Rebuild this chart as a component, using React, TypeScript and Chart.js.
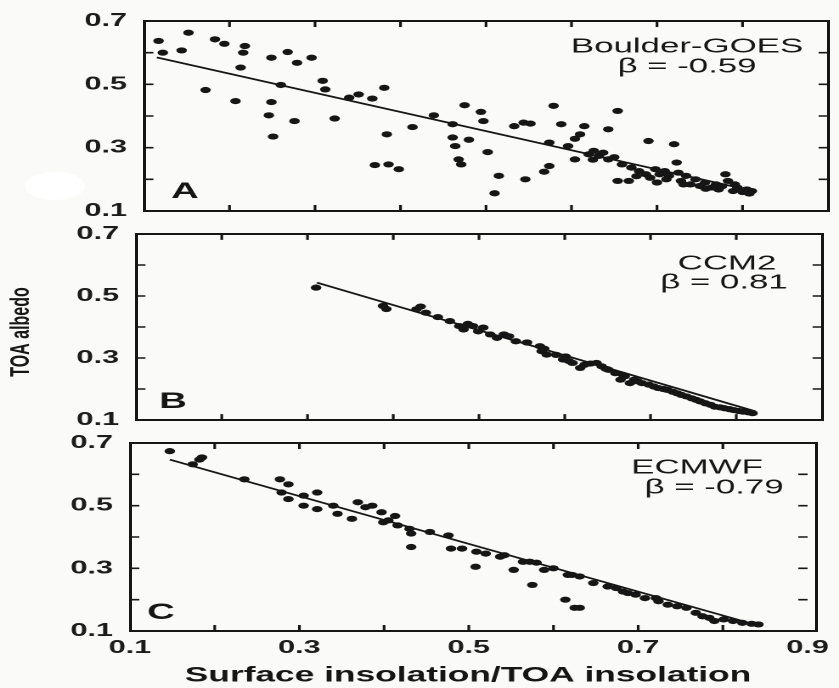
import React, { useEffect, useRef } from 'react';
import { Chart, registerables } from 'chart.js';

Chart.register(...registerables);

// ---------- data ----------
type Pt = [number, number];

const xLimits = [0.1, 0.9];
const yLimits = [0.1, 0.7];
const xTickValues = [0.1, 0.3, 0.5, 0.7, 0.9];
const yTickValues = [0.1, 0.3, 0.5, 0.7];
const xMinorTicks = [0.2, 0.3, 0.4, 0.5, 0.6, 0.7, 0.8];
const yMinorTicks = [0.2, 0.3, 0.4, 0.5, 0.6];

const pointsA: Pt[] = [
  [0.117, 0.637], [0.122, 0.6], [0.144, 0.607], [0.152, 0.663], [0.172, 0.482], [0.183, 0.642],
  [0.194, 0.628], [0.207, 0.447], [0.213, 0.553], [0.218, 0.621], [0.216, 0.6], [0.249, 0.584],
  [0.249, 0.444], [0.246, 0.402], [0.251, 0.335], [0.26, 0.498], [0.268, 0.602], [0.279, 0.568],
  [0.276, 0.384], [0.296, 0.584], [0.309, 0.511], [0.312, 0.484], [0.323, 0.392], [0.34, 0.458],
  [0.351, 0.468], [0.367, 0.455], [0.381, 0.489], [0.384, 0.342], [0.37, 0.245], [0.386, 0.247],
  [0.398, 0.232], [0.414, 0.365], [0.439, 0.402], [0.461, 0.374], [0.461, 0.332], [0.464, 0.305],
  [0.468, 0.263], [0.471, 0.247], [0.475, 0.434], [0.48, 0.325], [0.494, 0.413], [0.497, 0.384],
  [0.502, 0.286], [0.51, 0.156], [0.515, 0.211], [0.533, 0.368], [0.544, 0.379], [0.546, 0.2],
  [0.552, 0.376], [0.568, 0.224], [0.574, 0.242], [0.579, 0.432], [0.574, 0.316], [0.588, 0.374],
  [0.596, 0.305], [0.604, 0.328], [0.61, 0.342], [0.615, 0.368], [0.604, 0.263], [0.62, 0.279],
  [0.626, 0.29], [0.632, 0.274], [0.637, 0.284], [0.643, 0.358], [0.643, 0.263], [0.654, 0.416],
  [0.654, 0.195], [0.659, 0.247], [0.667, 0.195], [0.67, 0.237], [0.679, 0.226], [0.687, 0.216],
  [0.69, 0.321], [0.698, 0.232], [0.703, 0.216], [0.709, 0.226], [0.714, 0.211], [0.72, 0.311],
  [0.723, 0.253], [0.725, 0.221], [0.728, 0.195], [0.734, 0.211], [0.739, 0.184], [0.745, 0.2],
  [0.75, 0.179], [0.756, 0.189], [0.764, 0.174], [0.769, 0.184], [0.772, 0.168], [0.78, 0.216],
  [0.783, 0.195], [0.789, 0.163], [0.794, 0.174], [0.8, 0.16], [0.805, 0.168], [0.811, 0.163],
  [0.791, 0.184], [0.731, 0.184], [0.711, 0.2], [0.692, 0.205], [0.676, 0.21], [0.7, 0.19],
  [0.757, 0.17], [0.776, 0.178], [0.808, 0.155], [0.625, 0.262], [0.65, 0.27],
];
const fitA: Pt[] = [[0.115, 0.585], [0.81, 0.165]];

const pointsB: Pt[] = [
  [0.31, 0.527], [0.388, 0.468], [0.392, 0.458], [0.427, 0.457], [0.432, 0.466], [0.438, 0.446],
  [0.452, 0.432], [0.466, 0.419], [0.477, 0.403], [0.482, 0.392], [0.487, 0.41], [0.493, 0.403],
  [0.499, 0.386], [0.505, 0.398], [0.513, 0.376], [0.521, 0.365], [0.529, 0.376], [0.535, 0.37],
  [0.543, 0.354], [0.556, 0.35], [0.571, 0.338], [0.573, 0.322], [0.579, 0.311], [0.576, 0.33],
  [0.59, 0.31], [0.598, 0.295], [0.601, 0.305], [0.605, 0.29], [0.609, 0.284], [0.618, 0.268],
  [0.623, 0.278], [0.63, 0.282], [0.637, 0.284], [0.643, 0.273], [0.648, 0.265], [0.651, 0.262],
  [0.659, 0.251], [0.665, 0.23], [0.668, 0.245], [0.67, 0.241], [0.676, 0.219], [0.681, 0.23],
  [0.685, 0.225], [0.69, 0.219], [0.698, 0.214], [0.704, 0.208], [0.709, 0.203], [0.715, 0.2],
  [0.72, 0.197], [0.726, 0.191], [0.731, 0.186], [0.736, 0.181], [0.742, 0.176], [0.748, 0.17],
  [0.753, 0.165], [0.758, 0.16], [0.764, 0.154], [0.77, 0.149], [0.775, 0.143], [0.781, 0.141],
  [0.786, 0.138], [0.792, 0.135], [0.797, 0.132], [0.803, 0.129], [0.808, 0.127], [0.814, 0.125],
  [0.819, 0.122],
];
const fitB: Pt[] = [[0.311, 0.543], [0.822, 0.128]];

const pointsC: Pt[] = [
  [0.147, 0.674], [0.174, 0.632], [0.182, 0.647], [0.185, 0.654], [0.235, 0.584], [0.277, 0.584],
  [0.287, 0.568], [0.279, 0.542], [0.287, 0.521], [0.305, 0.532], [0.305, 0.5], [0.321, 0.542],
  [0.321, 0.489], [0.34, 0.5], [0.345, 0.474], [0.362, 0.458], [0.369, 0.511], [0.378, 0.495],
  [0.386, 0.5], [0.397, 0.479], [0.399, 0.447], [0.405, 0.453], [0.413, 0.467], [0.416, 0.437],
  [0.43, 0.426], [0.432, 0.411], [0.432, 0.368], [0.454, 0.416], [0.476, 0.405], [0.479, 0.363],
  [0.492, 0.363], [0.509, 0.353], [0.52, 0.347], [0.508, 0.305], [0.537, 0.337], [0.542, 0.342],
  [0.553, 0.295], [0.564, 0.321], [0.572, 0.321], [0.58, 0.318], [0.575, 0.247], [0.589, 0.295],
  [0.6, 0.3], [0.614, 0.2], [0.617, 0.279], [0.622, 0.279], [0.625, 0.174], [0.631, 0.174],
  [0.631, 0.274], [0.647, 0.253], [0.664, 0.242], [0.674, 0.237], [0.682, 0.226], [0.688, 0.221],
  [0.697, 0.216], [0.708, 0.205], [0.721, 0.205], [0.724, 0.195], [0.735, 0.184], [0.746, 0.179],
  [0.757, 0.174], [0.768, 0.158], [0.776, 0.147], [0.784, 0.142], [0.79, 0.132], [0.801, 0.137],
  [0.812, 0.132], [0.823, 0.126], [0.834, 0.123], [0.842, 0.121],
];
const fitC: Pt[] = [[0.147, 0.647], [0.844, 0.116]];

const panelNames = ['Boulder-GOES', 'CCM2', 'ECMWF'];
const panelBetas = ['β = -0.59', 'β = 0.81', 'β = -0.79'];
const panelLetters = ['A', 'B', 'C'];
const xTitle = 'Surface insolation/TOA insolation';
const yTitle = 'TOA albedo';

// ---------- layout (page pixels; drawing is stretched horizontally like the scan) ----------
const PAGE_W = 839;
const PAGE_H = 688;
const IW = 494;
const SX = PAGE_W / IW;
const FONT = '"Liberation Sans", Arial, Helvetica, sans-serif';
const INK = '#161616';

const layouts = [
  { l: 144, r: 828, t: 21, b: 211, name: [687, 47], beta: [687, 67], letter: [185, 192], showX: false },
  { l: 136, r: 822, t: 234, b: 420, name: [727, 264], beta: [724, 283], letter: [173, 402], showX: false },
  { l: 130, r: 816, t: 443, b: 631, name: [697, 468], beta: [714, 488], letter: [161, 613], showX: true },
];

const fmtTick = (vals: number[]) => (v: number | string) => {
  const n = Number(v);
  const hit = vals.find((t) => Math.abs(t - n) < 1e-6);
  return hit !== undefined ? hit.toFixed(1) : '';
};

// inward tick marks, built from the axis limits and tick values
const tickData = () => {
  const dy = 0.019;
  const dx = 0.011;
  const out: any[] = [];
  xMinorTicks.forEach((v) => {
    out.push({ x: v, y: yLimits[0] }, { x: v, y: yLimits[0] + dy }, { x: v, y: null });
    out.push({ x: v, y: yLimits[1] }, { x: v, y: yLimits[1] - dy }, { x: v, y: null });
  });
  yMinorTicks.forEach((v) => {
    out.push({ x: xLimits[0], y: v }, { x: xLimits[0] + dx, y: v }, { x: xLimits[0] + dx, y: null });
    out.push({ x: xLimits[1], y: v }, { x: xLimits[1] - dx, y: v }, { x: xLimits[1] - dx, y: null });
  });
  return out;
};

const textPlugin = {
  id: 'panelText',
  afterDraw(chart: any, _a: any, opts: any) {
    const ctx = chart.ctx;
    ctx.save();
    if (opts.hole) {
      ctx.fillStyle = '#ffffff';
      ctx.beginPath();
      ctx.ellipse(55 / SX, 186, 30 / SX, 14, 0, 0, Math.PI * 2);
      ctx.fill();
    }
    ctx.fillStyle = INK;
    ctx.textAlign = 'center';
    ctx.textBaseline = 'middle';
    ctx.font = `20.5px ${FONT}`;
    ctx.fillText(opts.name, opts.namePos[0] / SX, opts.namePos[1]);
    ctx.fillText(opts.beta, opts.betaPos[0] / SX, opts.betaPos[1]);
    ctx.font = `bold 22.5px ${FONT}`;
    ctx.fillText(opts.letter, opts.letterPos[0] / SX, opts.letterPos[1]);
    if (opts.xTitle) {
      ctx.font = `bold 20.8px ${FONT}`;
      ctx.fillText(opts.xTitle, 468 / SX, 676);
    }
    if (opts.yTitle) {
      ctx.save();
      ctx.translate(21 / SX, 332);
      ctx.rotate(-Math.PI / 2);
      ctx.font = `bold 16px ${FONT}`;
      ctx.fillText(opts.yTitle, 0, 0);
      ctx.restore();
    }
    ctx.restore();
  },
};

function makeChart(canvas: HTMLCanvasElement, idx: number) {
  const L = layouts[idx];
  const pts = [pointsA, pointsB, pointsC][idx];
  const fit = [fitA, fitB, fitC][idx];
  const yAxisW = 60;
  const xAxisH = L.showX ? 30 : 0;
  const padLeft = L.l / SX - yAxisW;
  const padRight = IW - L.r / SX;
  const padTop = L.t;
  const padBottom = PAGE_H - L.b - xAxisH;
  const tickFont = { family: FONT, size: 18, weight: 'bold' as const };

  return new Chart(canvas, {
    type: 'scatter',
    data: {
      datasets: [
        {
          type: 'scatter',
          data: pts.map(([x, y]) => ({ x, y })),
          pointRadius: 3.1,
          pointBackgroundColor: INK,
          pointBorderColor: INK,
          pointBorderWidth: 0,
        },
        {
          type: 'line',
          data: fit.map(([x, y]) => ({ x, y })),
          borderColor: INK,
          borderWidth: 1.7,
          pointRadius: 0,
          showLine: true,
          fill: false,
        },
        {
          type: 'line',
          data: tickData(),
          borderColor: INK,
          borderWidth: 1.6,
          pointRadius: 0,
          showLine: true,
          spanGaps: false,
          fill: false,
          clip: false,
        },
      ],
    } as any,
    options: {
      responsive: false,
      animation: false,
      devicePixelRatio: 2,
      layout: { padding: { left: padLeft, right: padRight, top: padTop, bottom: padBottom } },
      plugins: {
        legend: { display: false },
        tooltip: { enabled: false },
        panelText: {
          name: panelNames[idx],
          beta: panelBetas[idx],
          letter: panelLetters[idx],
          namePos: L.name,
          betaPos: L.beta,
          letterPos: L.letter,
          xTitle: idx === 2 ? xTitle : '',
          yTitle: idx === 1 ? yTitle : '',
          hole: idx === 0,
        },
      } as any,
      scales: {
        x: {
          type: 'linear',
          min: xLimits[0],
          max: xLimits[1],
          display: L.showX,
          position: 'bottom',
          afterFit: (s: any) => {
            s.height = xAxisH;
          },
          grid: { display: false, drawTicks: false },
          border: { display: false },
          ticks: {
            stepSize: 0.1,
            autoSkip: false,
            maxRotation: 0,
            padding: 6,
            color: '#1c1c1c',
            font: tickFont,
            callback: fmtTick(xTickValues),
          },
        },
        y: {
          type: 'linear',
          min: yLimits[0],
          max: yLimits[1],
          afterFit: (s: any) => {
            s.width = yAxisW;
          },
          grid: { display: false, drawTicks: false },
          border: { display: false },
          ticks: {
            stepSize: 0.1,
            autoSkip: false,
            padding: 10,
            color: '#1c1c1c',
            font: tickFont,
            callback: fmtTick(yTickValues),
          },
        },
      },
    } as any,
    plugins: [textPlugin as any],
  });
}

export default function App() {
  const r0 = useRef<HTMLCanvasElement>(null);
  const r1 = useRef<HTMLCanvasElement>(null);
  const r2 = useRef<HTMLCanvasElement>(null);
  const refs = [r0, r1, r2];

  useEffect(() => {
    const charts = [r0, r1, r2].map((r, i) => makeChart(r.current as HTMLCanvasElement, i));
    return () => charts.forEach((c) => c.destroy());
  }, []);

  return (
    <div
      style={{
        position: 'absolute',
        left: 0,
        top: 0,
        width: `${PAGE_W}px`,
        height: `${PAGE_H}px`,
        background: '#fafaf8',
        overflow: 'hidden',
      }}
    >
      {layouts.map((_L, i) => (
        <canvas
          key={`c${i}`}
          ref={refs[i]}
          width={IW}
          height={PAGE_H}
          style={{
            position: 'absolute',
            left: 0,
            top: 0,
            width: `${PAGE_W}px`,
            height: `${PAGE_H}px`,
            display: 'block',
          }}
        />
      ))}
      {layouts.map((L, i) => (
        <div
          key={`f${i}`}
          style={{
            position: 'absolute',
            left: `${L.l - 1.5}px`,
            top: `${L.t - 1}px`,
            width: `${L.r - L.l + 3}px`,
            height: `${L.b - L.t + 2}px`,
            boxSizing: 'border-box',
            borderStyle: 'solid',
            borderColor: INK,
            borderWidth: '2px 3px',
            pointerEvents: 'none',
          }}
        />
      ))}
    </div>
  );
}
